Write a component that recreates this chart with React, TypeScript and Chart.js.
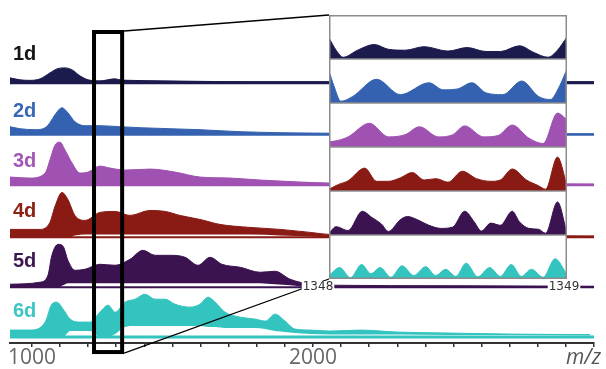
import React, { useEffect, useRef } from 'react';
import { Chart, registerables } from 'chart.js';

Chart.register(...registerables);

// ---------- main spectra: m/z and relative intensity (upper edge / lower edge of the band) ----------
const seriesNames = ['1d', '2d', '3d', '4d', '5d', '6d'];

const mz1d = [922, 958, 993, 1029, 1064, 1089, 1118, 1143, 1171, 1200, 1242, 1296, 1313, 1349, 1456, 1598, 1776, 2061, 2500, 3000];
const hi1d = [5, 3, 2.5, 4, 10, 14, 15, 13, 7, 3, 2, 4, 3, 2.5, 2, 1.5, 1, 1, 1, 1];

const mz2d = [922, 958, 1011, 1047, 1064, 1082, 1107, 1128, 1153, 1189, 1242, 1313, 1385, 1491, 1598, 1741, 1883, 2061, 2500, 3000];
const hi2d = [8, 6, 5, 7, 12, 20, 27, 22, 13, 9, 9, 8, 7, 6, 5, 3, 2, 1.5, 1, 1];

const mz3d = [922, 993, 1047, 1064, 1082, 1100, 1118, 1143, 1171, 1200, 1242, 1278, 1331, 1420, 1509, 1598, 1705, 1812, 1954, 2061, 2500, 3000];
const hi3d = [8, 7, 12, 25, 40, 43, 35, 22, 12, 13, 19, 17, 15, 16, 13, 8, 7, 5, 3, 2, 1.5, 1];

const mz4d = [922, 1029, 1064, 1082, 1107, 1128, 1153, 1189, 1242, 1296, 1349, 1420, 1474, 1527, 1598, 1669, 1776, 1883, 1990, 2061, 2500, 3000];
const hi4d = [8, 8, 15, 31, 45, 38, 22, 17, 25, 26, 22, 27, 26, 22, 18, 13, 10, 8, 5, 3, 2, 1.5];
const lo4d = [0, 0, 0, 0, 0, 0, 2, 3, 3, 3, 3, 3, 3, 3, 3, 3, 3, 2, 1, 0, 0, 0];

const mz5d = [922, 1029, 1057, 1071, 1093, 1111, 1128, 1153, 1189, 1242, 1296, 1349, 1395, 1438, 1491, 1545, 1591, 1634, 1676, 1741, 1812, 1865, 1919, 1990, 2061, 2500, 3000];
const hi5d = [3, 5, 12, 32, 43, 41, 27, 17, 18, 23, 22, 28, 37, 32, 32, 30, 22, 30, 23, 20, 15, 16, 8, 3, 2, 1.5, 1];
const lo5d = [0, 0, 0, 0, 0, 2, 4, 4, 4, 4, 4, 4, 4, 4, 4, 4, 4, 4, 4, 4, 4, 3, 2, 0, 0, 0, 0];

const mz6d = [922, 993, 1047, 1071, 1089, 1111, 1136, 1171, 1207, 1242, 1271, 1296, 1331, 1367, 1402, 1438, 1474, 1509, 1563, 1598, 1627, 1652, 1687, 1741, 1794, 1830, 1865, 1901, 1936, 1990, 2061, 2168, 2300, 2488, 2700, 2986];
const hi6d = [7, 7, 15, 33, 35, 28, 18, 15, 15, 25, 32, 25, 35, 38, 43, 38, 38, 33, 30, 33, 40, 35, 25, 20, 18, 16, 23, 16, 8, 7, 6, 7, 5, 4, 3, 2.5];
const lo6d = [0, 0, 0, 0, 0, 0, 6, 6, 6, 0, 0, 3, 10, 11, 11, 11, 11, 11, 11, 11, 10, 10, 9, 9, 9, 8, 6, 5, 4, 3, 2.5, 2.5, 2.5, 2, 2, 1.5];

// x axis
const xMin = 922;
const xMax = 3000;
const xStep = 100;
const xLabelTicks = [1000, 2000];
const axisTitle = 'm/z';
const zoomWindow = [1221, 1321];

// ---------- inset (zoom of one m/z unit), heights in % of panel ----------
const insetRange = [1348, 1349];
const insetLabels = ['1348', '1349'];

const inX1d = [0, 0.03, 0.06, 0.12, 0.19, 0.25, 0.32, 0.4, 0.5, 0.58, 0.66, 0.72, 0.8, 0.86, 0.92, 0.96, 1.0];
const inY1d = [48, 20, 4, 20, 33, 22, 20, 28, 18, 26, 17, 17, 30, 15, 4, 20, 50];

const inX2d = [0, 0.02, 0.05, 0.1, 0.2, 0.3, 0.42, 0.48, 0.54, 0.6, 0.66, 0.73, 0.81, 0.88, 0.93, 0.97, 1.0];
const inY2d = [73, 40, 4, 15, 54, 19, 46, 30, 32, 46, 23, 19, 50, 15, 8, 40, 77];

const inX3d = [0, 0.03, 0.08, 0.17, 0.25, 0.32, 0.38, 0.46, 0.52, 0.57, 0.65, 0.71, 0.77, 0.84, 0.9, 0.96, 1.0];
const inY3d = [12, 14, 23, 54, 23, 28, 46, 23, 28, 48, 23, 26, 50, 20, 8, 77, 62];

const inX4d = [0, 0.04, 0.08, 0.15, 0.2, 0.25, 0.3, 0.35, 0.4, 0.45, 0.5, 0.56, 0.62, 0.68, 0.72, 0.77, 0.83, 0.88, 0.91, 0.96, 1.0];
const inY4d = [4, 15, 23, 52, 22, 22, 30, 42, 25, 28, 20, 45, 28, 22, 25, 50, 25, 12, 4, 77, 12];

const inX5d = [0, 0.03, 0.08, 0.14, 0.18, 0.22, 0.25, 0.3, 0.33, 0.37, 0.42, 0.47, 0.52, 0.57, 0.61, 0.64, 0.68, 0.72, 0.77, 0.8, 0.84, 0.88, 0.91, 0.96, 1.0];
const inY5d = [4, 19, 10, 54, 40, 25, 8, 35, 42, 35, 22, 15, 18, 54, 30, 9, 27, 22, 54, 30, 15, 13, 4, 75, 4];

const inX6d = [0, 0.045, 0.09, 0.137, 0.176, 0.215, 0.26, 0.307, 0.356, 0.406, 0.448, 0.49, 0.533, 0.576, 0.625, 0.675, 0.72, 0.766, 0.808, 0.851, 0.9, 0.95, 1.0];
const inY6d = [8, 26, 3, 33, 12, 26, 4, 30, 8, 28, 8, 22, 6, 36, 5, 26, 6, 33, 6, 22, 4, 46, 10];

// ---------- styles / layout ----------
const colors = ['#1c1b4d', '#3462b0', '#a052b2', '#891a14', '#3b1350', '#33c4bf'];
const labelColors = ['#141414', '#3a67b4', '#a456b6', '#8c2214', '#3d1652', '#3fc6c2'];
const yMins = [-1, -1, -2.5, -2, -4, -6];
const rowSpan = 52;
const baseWidths = [3, 2, 2.5, 2, 2, 3];
const labelLevels = [23, 18, 18, 20, 20, 20];
const insetBox = { left: 329, top: 15, width: 238, height: 264 };

const mainSeries = [
  { mz: mz1d, hi: hi1d, lo: null as number[] | null },
  { mz: mz2d, hi: hi2d, lo: null },
  { mz: mz3d, hi: hi3d, lo: null },
  { mz: mz4d, hi: hi4d, lo: lo4d },
  { mz: mz5d, hi: hi5d, lo: lo5d },
  { mz: mz6d, hi: hi6d, lo: lo6d },
];

const insetSeries = [
  { x: inX1d, y: inY1d },
  { x: inX2d, y: inY2d },
  { x: inX3d, y: inY3d },
  { x: inX4d, y: inY4d },
  { x: inX5d, y: inY5d },
  { x: inX6d, y: inY6d },
];

const mainOverlay = {
  id: 'mainOverlay',
  beforeDatasetsDraw(chart: any) {
    const { ctx, chartArea } = chart;
    seriesNames.forEach((_, i) => {
      const y = chart.scales['y' + i].getPixelForValue(0);
      ctx.save();
      ctx.strokeStyle = colors[i];
      ctx.lineWidth = baseWidths[i];
      ctx.beginPath();
      ctx.moveTo(chartArea.left, y);
      ctx.lineTo(chartArea.right, y);
      ctx.stroke();
      ctx.restore();
    });
  },
  afterDraw(chart: any) {
    const { ctx, chartArea } = chart;
    const xs = chart.scales.x;
    ctx.save();
    // series labels
    ctx.font = 'bold 20px "Liberation Sans"';
    ctx.textAlign = 'left';
    ctx.textBaseline = 'alphabetic';
    seriesNames.forEach((name, i) => {
      const y = chart.scales['y' + i].getPixelForValue(labelLevels[i]);
      ctx.fillStyle = labelColors[i];
      ctx.fillText(name, chartArea.left + 3, y);
    });
    // zoom window
    const x1 = xs.getPixelForValue(zoomWindow[0]);
    const x2 = xs.getPixelForValue(zoomWindow[1]);
    const top = chartArea.top;
    const bot = chartArea.bottom + 9;
    ctx.strokeStyle = '#000';
    ctx.lineWidth = 4;
    ctx.strokeRect(x1, top, x2 - x1, bot - top);
    ctx.lineWidth = 1.3;
    ctx.beginPath();
    ctx.moveTo(x2 + 2, top - 1);
    ctx.lineTo(insetBox.left, insetBox.top);
    ctx.moveTo(x2 + 2, bot + 1);
    ctx.lineTo(insetBox.left, insetBox.top + insetBox.height);
    ctx.stroke();
    // inset axis labels
    ctx.font = '12px "DejaVu Sans"';
    ctx.textAlign = 'center';
    ctx.textBaseline = 'middle';
    const labelY = insetBox.top + insetBox.height + 8;
    const lx = [insetBox.left - 11, insetBox.left + insetBox.width - 3];
    insetLabels.forEach((t, k) => {
      const w = ctx.measureText(t).width;
      ctx.fillStyle = '#fff';
      ctx.fillRect(lx[k] - w / 2 - 1, labelY - 6, w + 2, 12);
      ctx.fillStyle = '#333';
      ctx.fillText(t, lx[k], labelY);
    });
    // axis title
    ctx.font = 'italic 21px "Open Sans"';
    ctx.fillStyle = '#555';
    ctx.textAlign = 'right';
    ctx.textBaseline = 'middle';
    ctx.fillText(axisTitle, 601, 358);
    ctx.restore();
  },
};

const insetOverlay = {
  id: 'insetOverlay',
  beforeDraw(chart: any) {
    const { ctx, width, height } = chart;
    ctx.save();
    ctx.fillStyle = '#fff';
    ctx.fillRect(0, 0, width, height);
    ctx.restore();
  },
  afterDraw(chart: any) {
    const { ctx, width, height } = chart;
    ctx.save();
    ctx.strokeStyle = '#8c8c8c';
    ctx.lineWidth = 1.5;
    for (let i = 0; i < insetSeries.length - 1; i++) {
      const y = chart.scales['y' + i].bottom;
      ctx.beginPath();
      ctx.moveTo(0, y);
      ctx.lineTo(width, y);
      ctx.stroke();
    }
    ctx.strokeRect(0.75, 0.75, width - 1.5, height - 1.5);
    ctx.restore();
  },
};

export default function App() {
  const mainRef = useRef<HTMLCanvasElement>(null);
  const insetRef = useRef<HTMLCanvasElement>(null);

  useEffect(() => {
    document.body.style.margin = '0';

    const datasets: any[] = [];
    mainSeries.forEach((s, i) => {
      const yAxisID = 'y' + i;
      const pts = (arr: number[]) => s.mz.map((x, k) => ({ x, y: arr[k] }));
      const common = { yAxisID, pointRadius: 0, tension: 0.4, cubicInterpolationMode: 'monotone' };
      if (s.lo) {
        datasets.push({ ...common, data: pts(s.lo), borderWidth: 0, borderColor: 'rgba(0,0,0,0)', fill: false });
        datasets.push({ ...common, data: pts(s.hi), borderWidth: 1, borderColor: colors[i], backgroundColor: colors[i], fill: '-1' });
      } else {
        datasets.push({ ...common, data: pts(s.hi), borderWidth: 1, borderColor: colors[i], backgroundColor: colors[i], fill: { value: 0 } });
      }
    });

    const mainScales: any = {
      x: {
        type: 'linear',
        position: 'bottom',
        min: xMin,
        max: xMax,
        border: { display: true, color: '#333', width: 2 },
        grid: { drawOnChartArea: false, drawTicks: true, tickLength: 4, color: '#333', lineWidth: 1.5 },
        ticks: {
          stepSize: xStep,
          includeBounds: false,
          autoSkip: false,
          maxRotation: 0,
          minRotation: 0,
          padding: 1,
          color: '#666',
          font: { family: 'Open Sans', size: 21, lineHeight: 0.95 },
          callback: (v: number) => (xLabelTicks.some((t) => Math.abs(t - v) < 1e-6) ? String(Math.round(v)) : ''),
        },
      },
    };
    seriesNames.forEach((_, i) => {
      mainScales['y' + i] = {
        type: 'linear',
        display: false,
        position: 'right',
        stack: 'rows',
        stackWeight: 1,
        min: yMins[i],
        max: yMins[i] + rowSpan,
      };
    });

    const main = new Chart(mainRef.current as HTMLCanvasElement, {
      type: 'line',
      data: { datasets },
      options: {
        responsive: false,
        animation: false,
        events: [],
        layout: { padding: { left: 10, right: 12, top: 32, bottom: 0 } },
        plugins: { legend: { display: false }, tooltip: { enabled: false } },
        scales: mainScales,
      },
      plugins: [mainOverlay],
    } as any);

    const insetDatasets = insetSeries.map((s, i) => ({
      yAxisID: 'y' + i,
      data: s.x.map((f, k) => ({ x: insetRange[0] + f * (insetRange[1] - insetRange[0]), y: s.y[k] })),
      borderColor: colors[i],
      backgroundColor: colors[i],
      borderWidth: 1,
      pointRadius: 0,
      tension: 0.4,
      cubicInterpolationMode: 'monotone',
      fill: 'start',
    }));
    const insetScales: any = {
      x: { type: 'linear', display: false, min: insetRange[0], max: insetRange[1] },
    };
    insetSeries.forEach((_, i) => {
      insetScales['y' + i] = {
        type: 'linear',
        display: false,
        position: 'right',
        stack: 'panels',
        stackWeight: 1,
        min: 0,
        max: 100,
      };
    });

    const inset = new Chart(insetRef.current as HTMLCanvasElement, {
      type: 'line',
      data: { datasets: insetDatasets },
      options: {
        responsive: false,
        animation: false,
        events: [],
        layout: { padding: 0 },
        plugins: { legend: { display: false }, tooltip: { enabled: false } },
        scales: insetScales,
      },
      plugins: [insetOverlay],
    } as any);

    return () => {
      main.destroy();
      inset.destroy();
    };
  }, []);

  return (
    <div style={{ position: 'fixed', left: 0, top: 0, width: 606, height: 369, background: '#fff' }}>
      <canvas
        ref={mainRef}
        width={606}
        height={369}
        style={{ position: 'absolute', left: 0, top: 0, width: 606, height: 369 }}
      />
      <canvas
        ref={insetRef}
        width={insetBox.width}
        height={insetBox.height}
        style={{ position: 'absolute', left: insetBox.left, top: insetBox.top, width: insetBox.width, height: insetBox.height }}
      />
    </div>
  );
}
